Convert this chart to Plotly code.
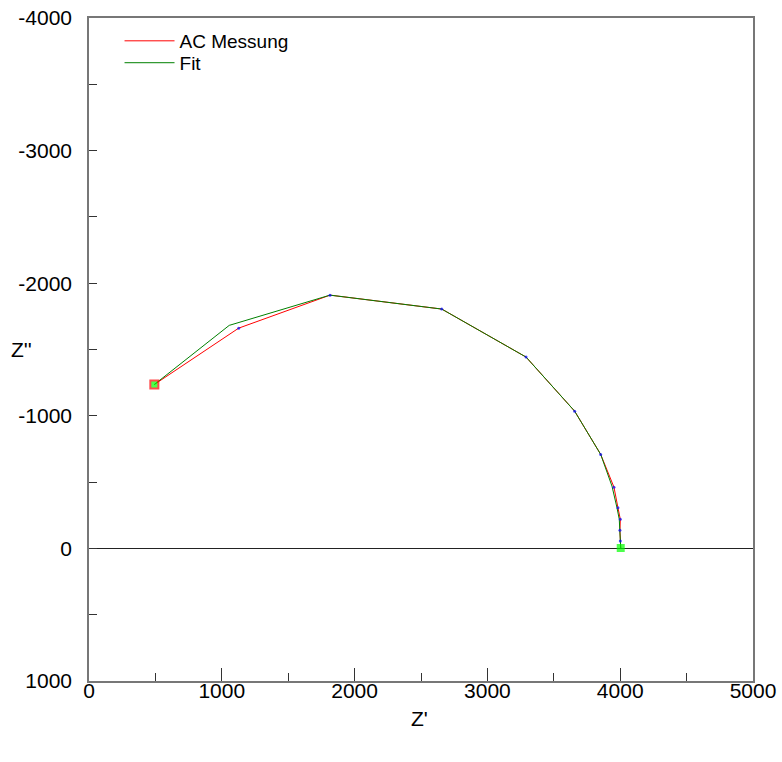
import plotly.graph_objects as go

# AC measurement (Z', Z'')
meas_zr = [492, 1127, 1815, 2656, 3291, 3657, 3853, 3953, 3983, 4001, 3998, 4001, 4004]
meas_zi = [-1236, -1661, -1910, -1805, -1443, -1035, -709, -462, -307, -219, -136, -55, -3]

# Fit
fit_zr = [492, 1056, 1815, 2656, 3291, 3657, 3853, 3938, 3975, 3993, 3997, 4001, 4004]
fit_zi = [-1236, -1682, -1910, -1805, -1443, -1035, -709, -470, -310, -220, -136, -55, -3]

x_ticks = [0, 1000, 2000, 3000, 4000, 5000]
y_ticks = [-4000, -3000, -2000, -1000, 0, 1000]

FONT = "Liberation Sans, Arial, sans-serif"

n = len(meas_zr)
m_sym = ["square"] + ["circle"] * (n - 2) + ["square"]
m_size = [8] + [3] * (n - 2) + [8]
m_col = ["#00ff00"] + ["#0000ff"] * (n - 2) + ["#00ff00"]
m_lcol = ["#ff0000"] + ["#0000ff"] * (n - 2) + ["#00ff00"]
m_lw = [2] + [0] * (n - 2) + [0]

fig = go.Figure()
fig.add_trace(go.Scatter(
    x=meas_zr, y=meas_zi, mode="lines", name="AC Messung",
    line=dict(color="#ff0000", width=1), legend="legend",
))
fig.add_trace(go.Scatter(
    x=fit_zr, y=fit_zi, mode="lines", name="Fit",
    line=dict(color="#008000", width=1), legend="legend2",
))
fig.add_trace(go.Scatter(
    x=meas_zr, y=meas_zi, mode="markers", showlegend=False,
    marker=dict(symbol=m_sym, size=m_size, color=m_col,
                line=dict(color=m_lcol, width=m_lw)),
))

minor = dict(dtick=500, ticks="inside", ticklen=8, tickcolor="#333333", tickwidth=1)
axis_common = dict(
    showline=True, linecolor="#777777", linewidth=1.5, mirror=True,
    showgrid=False, ticks="inside", tickcolor="#333333", tickwidth=1,
    tickfont=dict(family=FONT, size=21, color="black"),
    automargin=False, minor=minor, ticklabeloverflow="allow",
)

leg_common = dict(xanchor="left", yanchor="top", bgcolor="rgba(0,0,0,0)",
                  font=dict(family=FONT, size=19, color="black"), itemwidth=50)

fig.update_layout(
    width=782, height=762,
    margin=dict(l=89, r=29, t=18, b=81, autoexpand=False),
    paper_bgcolor="white", plot_bgcolor="white",
    font=dict(family=FONT, size=19, color="black"),
    xaxis=dict(range=[0, 5000], tickvals=x_ticks, ticktext=[str(v) for v in x_ticks],
               zeroline=False, ticklen=13, ticklabelstandoff=-10, **axis_common),
    yaxis=dict(range=[1000, -4000], tickvals=y_ticks, ticktext=[str(v) for v in y_ticks],
               zeroline=True, zerolinecolor="#222222", zerolinewidth=1,
               ticklen=0, ticklabelstandoff=11, **axis_common),
    legend=dict(x=0.046, y=0.994, **leg_common),
    legend2=dict(x=0.046, y=0.961, **leg_common),
    showlegend=True,
)

fig.add_annotation(text="Z''", xref="paper", yref="paper", x=-0.101, y=0.50,
                   xanchor="center", yanchor="middle", showarrow=False,
                   font=dict(family=FONT, size=21, color="black"))
fig.add_annotation(text="Z'", xref="paper", yref="paper", x=0.497, y=-0.056,
                   xanchor="center", yanchor="middle", showarrow=False,
                   font=dict(family=FONT, size=21, color="black"))

fig.write_html(
    "out.html",
    config={"displayModeBar": False},
    post_script="document.body.style.margin='0';document.body.style.overflow='hidden';",
)
